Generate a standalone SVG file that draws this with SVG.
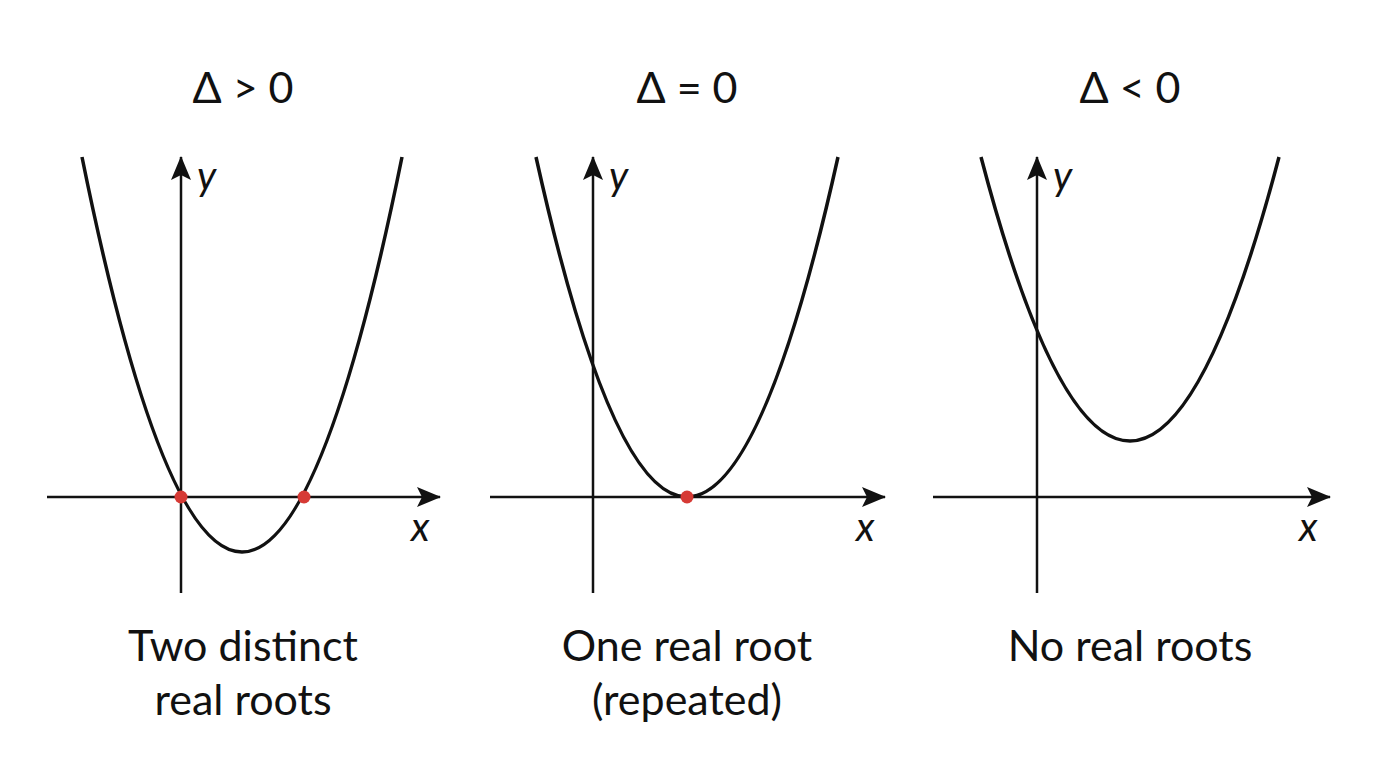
<svg xmlns="http://www.w3.org/2000/svg" width="1376" height="768" viewBox="0 0 1376 768">
<style>
.ax{stroke:#111;stroke-width:2.5;fill:none}
.cv{stroke:#111;stroke-width:3.5;fill:none}
.t{font-family:"Lato","Noto Sans",sans-serif;font-size:43px;fill:#111;text-anchor:middle}
.v{font-family:"Lato","Noto Sans",sans-serif;font-size:40px;font-style:italic;fill:#111}
.d{fill:#d63a35}
</style>
<defs>
<marker id="a2" viewBox="0 0 24 20" refX="23" refY="10" markerWidth="24" markerHeight="20" markerUnits="userSpaceOnUse" orient="auto"><path d="M0,0 L24,10 L0,20 L5,10 z" fill="#111"/></marker></defs>
<g id="connectors">
<line class="ax" x1="47" y1="497" x2="440" y2="497" marker-end="url(#a2)"/>
<line class="ax" x1="181" y1="593" x2="181" y2="157" marker-end="url(#a2)"/>
<line class="ax" x1="490" y1="497" x2="885" y2="497" marker-end="url(#a2)"/>
<line class="ax" x1="593" y1="593" x2="593" y2="157" marker-end="url(#a2)"/>
<line class="ax" x1="933" y1="497" x2="1330" y2="497" marker-end="url(#a2)"/>
<line class="ax" x1="1037" y1="593" x2="1037" y2="157" marker-end="url(#a2)"/>
</g>
<g id="panel1">
<text class="t" x="243" y="103">Δ &gt; 0</text>
<path class="cv" d="M82,157 Q242,947 402,157"/>
<circle class="d" cx="181" cy="497" r="6.5"/><circle class="d" cx="304" cy="497" r="6.5"/>
<text class="v" x="197" y="190">y</text><text class="v" x="411" y="541">x</text>
<text class="t" x="243" y="661">Two distinct</text><text class="t" x="243" y="715">real roots</text>
</g>
<g id="panel2">
<text class="t" x="687" y="103">Δ = 0</text>
<path class="cv" d="M536,157 Q687,837 838,157"/>
<circle class="d" cx="687" cy="497" r="6.5"/>
<text class="v" x="609" y="190">y</text><text class="v" x="856" y="541">x</text>
<text class="t" x="687" y="661">One real root</text><text class="t" x="687" y="715">(repeated)</text>
</g>
<g id="panel3">
<text class="t" x="1130" y="103">Δ &lt; 0</text>
<path class="cv" d="M981,157 Q1130,725 1279,157"/>
<text class="v" x="1053" y="190">y</text><text class="v" x="1299" y="541">x</text>
<text class="t" x="1130" y="661">No real roots</text>
</g>
</svg>
